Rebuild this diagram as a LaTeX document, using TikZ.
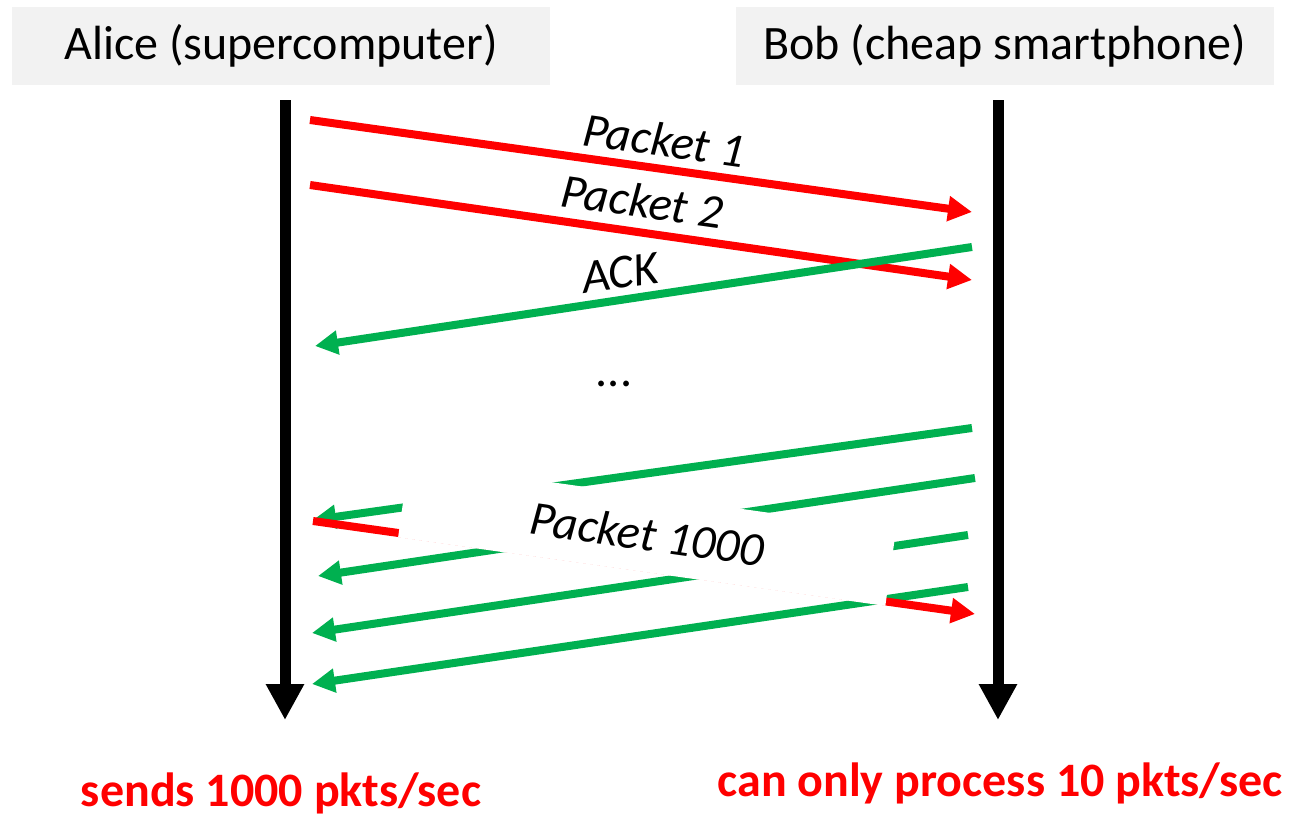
\documentclass[tikz,border=0pt]{standalone}
\usepackage{fontspec}
\setmainfont{Carlito}
\usetikzlibrary{arrows.meta}
\definecolor{pred}{HTML}{FF0000}
\definecolor{pgreen}{HTML}{00B050}
\definecolor{hdrgray}{HTML}{F2F2F2}
\tikzset{
  big/.style={font=\fontsize{48}{58}\selectfont, inner sep=0pt},
  hdr/.style={fill=hdrgray, minimum width=538pt, minimum height=78pt, inner sep=0pt, big},
  lifeline/.style={draw=black, line width=11pt, -{Triangle[length=36pt,width=36pt]}},
  redarr/.style={draw=pred, line width=8pt, -{Triangle[length=24pt,width=24pt]}},
  greenarr/.style={draw=pgreen, line width=8pt, -{Triangle[length=23pt,width=23pt]}},
  lbl/.style={big, font=\fontsize{48}{58}\selectfont\itshape},
  note/.style={big, font=\fontsize{48}{58}\selectfont\bfseries, text=pred}
}
\begin{document}
\begin{tikzpicture}[x=1pt, y=-1pt]
\useasboundingbox (0,0) rectangle (1291,816);
% headers
\node[hdr] (alice) at (281,46) {Alice (supercomputer)};
\node[hdr] (bob) at (1004.5,46) {Bob (cheap smartphone)};
% lifelines
\coordinate (atop) at (285,100);
\coordinate (abot) at (285,720);
\coordinate (btop) at (998,100);
\coordinate (bbot) at (998,720);
\draw[lifeline] (atop) -- (abot);
\draw[lifeline] (btop) -- (bbot);
% upper messages
\coordinate (p1s) at (310,120);
\coordinate (p1e) at (972,212);
\coordinate (p2s) at (310,185);
\coordinate (p2e) at (972,280);
\coordinate (acks) at (972,247);
\coordinate (acke) at (315,346);
\draw[redarr] (p1s) -- (p1e);
\draw[redarr] (p2s) -- (p2e);
\draw[greenarr] (acks) -- (acke);
\node[lbl, rotate=-8] (l1) at (664,140) {Packet 1};
\node[lbl, rotate=-8] (l2) at (642,201) {Packet 2};
\node[lbl, rotate=8] (lack) at (620,273) {ACK};
\node[big] (dots) at (614,384) {...};
% lower messages
\coordinate (g1s) at (972,428);
\coordinate (g1e) at (313,520);
\coordinate (g2s) at (975,478);
\coordinate (g2e) at (318,576);
\coordinate (g3s) at (968,535);
\coordinate (g3e) at (312,633);
\coordinate (g4s) at (968,587);
\coordinate (g4e) at (312,684);
\coordinate (pks) at (313,521);
\coordinate (pke) at (975,614);
\draw[greenarr] (g1s) -- (g1e);
\draw[greenarr] (g2s) -- (g2e);
\draw[greenarr] (g3s) -- (g3e);
\draw[greenarr] (g4s) -- (g4e);
\draw[redarr] (pks) -- (pke);
\node[lbl, rotate=-8, fill=white, minimum width=492pt, minimum height=76pt] (l1000) at (647,534) {Packet 1000};
% bottom notes
\node[note] (na) at (281,793) {sends 1000 pkts/sec};
\node[note] (nb) at (1000,783) {can only process 10 pkts/sec};
\end{tikzpicture}
\end{document}
